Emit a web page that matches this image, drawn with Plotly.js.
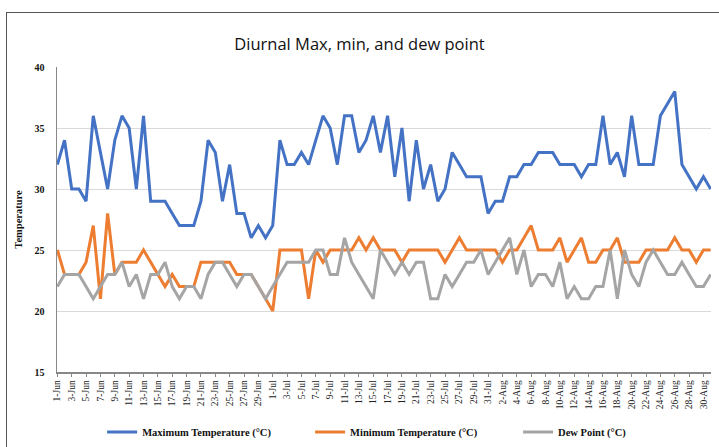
<!DOCTYPE html>
<html>
<head>
<meta charset="utf-8">
<script src="https://cdn.plot.ly/plotly-3.0.1.min.js"></script>
<style>
  html, body { margin: 0; padding: 0; background: #fff; }
  #wrap { position: relative; width: 719px; height: 447px; overflow: hidden; }
  #frame { position: absolute; left: 6px; top: 12px; width: 760px; height: 500px; border: 1.5px solid #555; box-sizing: border-box; pointer-events: none; }
  #chart { position: absolute; left: 0; top: 0; width: 719px; height: 447px; }
</style>
</head>
<body>
<div id="wrap">
  <div id="chart"></div>
  <div id="frame"></div>
</div>
<script>
const dates = [
  "1-Jun","2-Jun","3-Jun","4-Jun","5-Jun","6-Jun","7-Jun","8-Jun","9-Jun","10-Jun",
  "11-Jun","12-Jun","13-Jun","14-Jun","15-Jun","16-Jun","17-Jun","18-Jun","19-Jun","20-Jun",
  "21-Jun","22-Jun","23-Jun","24-Jun","25-Jun","26-Jun","27-Jun","28-Jun","29-Jun","30-Jun",
  "1-Jul","2-Jul","3-Jul","4-Jul","5-Jul","6-Jul","7-Jul","8-Jul","9-Jul","10-Jul",
  "11-Jul","12-Jul","13-Jul","14-Jul","15-Jul","16-Jul","17-Jul","18-Jul","19-Jul","20-Jul",
  "21-Jul","22-Jul","23-Jul","24-Jul","25-Jul","26-Jul","27-Jul","28-Jul","29-Jul","30-Jul",
  "31-Jul","1-Aug","2-Aug","3-Aug","4-Aug","5-Aug","6-Aug","7-Aug","8-Aug","9-Aug",
  "10-Aug","11-Aug","12-Aug","13-Aug","14-Aug","15-Aug","16-Aug","17-Aug","18-Aug","19-Aug",
  "20-Aug","21-Aug","22-Aug","23-Aug","24-Aug","25-Aug","26-Aug","27-Aug","28-Aug","29-Aug",
  "30-Aug","31-Aug"
];

const maxTemp = [
  32,34,30,30,29,36,33,30,34,36,
  35,30,36,29,29,29,28,27,27,27,
  29,34,33,29,32,28,28,26,27,26,
  27,34,32,32,33,32,34,36,35,32,
  36,36,33,34,36,33,36,31,35,29,
  34,30,32,29,30,33,32,31,31,31,
  28,29,29,31,31,32,32,33,33,33,
  32,32,32,31,32,32,36,32,33,31,
  36,32,32,32,36,37,38,32,31,30,
  31,30
];

const minTemp = [
  25,23,23,23,24,27,21,28,23,24,
  24,24,25,24,23,22,23,22,22,22,
  24,24,24,24,24,23,23,23,22,21,
  20,25,25,25,25,21,25,24,25,25,
  25,25,26,25,26,25,25,25,24,25,
  25,25,25,25,24,25,26,25,25,25,
  25,25,24,25,25,26,27,25,25,25,
  26,24,25,26,24,24,25,25,26,24,
  24,24,25,25,25,25,26,25,25,24,
  25,25
];

const dewPoint = [
  22,23,23,23,22,21,22,23,23,24,
  22,23,21,23,23,24,22,21,22,22,
  21,23,24,24,23,22,23,23,22,21,
  22,23,24,24,24,24,25,25,23,23,
  26,24,23,22,21,25,24,23,24,23,
  24,24,21,21,23,22,23,24,24,25,
  23,24,25,26,23,25,22,23,23,22,
  24,21,22,21,21,22,22,25,21,25,
  23,22,24,25,24,23,23,24,23,22,
  22,23
];

const seriesNames = ["Maximum Temperature (°C)", "Minimum Temperature (°C)", "Dew Point (°C)"];
const seriesColors = ["#4472C4", "#ED7D31", "#A5A5A5"];
const seriesData = [maxTemp, minTemp, dewPoint];
const legendIds = ["legend", "legend2", "legend3"];

const traces = seriesData.map((vals, k) => ({
  x: dates,
  y: vals,
  type: "scatter",
  mode: "lines",
  name: seriesNames[k],
  legend: legendIds[k],
  line: { color: seriesColors[k], width: 3 },
  hoverinfo: "x+y"
}));

const serif = "Liberation Serif, Times New Roman, serif";

function legendAt(xPaper) {
  return {
    orientation: "h",
    x: xPaper, xanchor: "left",
    y: -0.197, yanchor: "middle",
    font: { family: serif, size: 10.5, color: "#111", weight: "bold" },
    itemwidth: 30,
    bgcolor: "rgba(0,0,0,0)"
  };
}

const layout = {
  width: 719,
  height: 447,
  margin: { l: 57, r: 8, t: 67, b: 75, autoexpand: false },
  paper_bgcolor: "rgba(0,0,0,0)",
  plot_bgcolor: "#fff",
  title: {
    text: "Diurnal Max, min, and dew point",
    font: { family: "Open Sans, Noto Sans, sans-serif", size: 16.5, color: "#111" },
    x: 0.5, xanchor: "center",
    y: 1 - 44 / 447, yanchor: "middle", yref: "container"
  },
  showlegend: true,
  legend: legendAt(0.069),
  legend2: legendAt(0.387),
  legend3: legendAt(0.705),
  xaxis: {
    type: "category",
    range: [-0.05, 91.05],
    tickmode: "linear",
    tick0: 0,
    dtick: 2,
    tickangle: -90,
    tickfont: { family: serif, size: 9.5, color: "#222" },
    ticks: "outside",
    ticklen: 3,
    tickcolor: "#888",
    showline: true,
    linecolor: "#888",
    linewidth: 1.5,
    showgrid: false,
    zeroline: false,
    fixedrange: true
  },
  yaxis: {
    range: [15, 40],
    tickmode: "linear",
    tick0: 15,
    dtick: 5,
    tickfont: { family: serif, size: 10, color: "#111", weight: "bold" },
    ticklabelstandoff: 9,
    showline: true,
    linecolor: "#888",
    linewidth: 1.5,
    showgrid: true,
    gridcolor: "#d9d9d9",
    gridwidth: 1,
    zeroline: false,
    ticks: "",
    title: {
      text: "Temperature",
      font: { family: serif, size: 10.5, color: "#111", weight: "bold" },
      standoff: 10
    },
    fixedrange: true
  }
};

Plotly.newPlot("chart", traces, layout, { displayModeBar: false, staticPlot: true });
</script>
</body>
</html>
